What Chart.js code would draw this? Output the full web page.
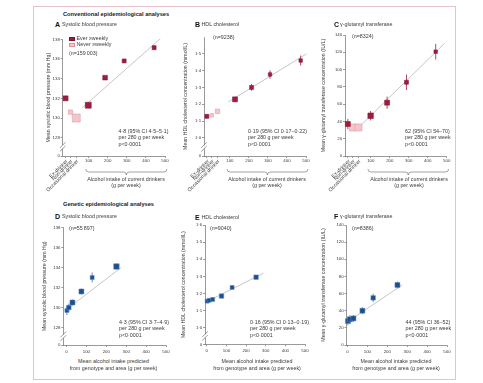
<!DOCTYPE html>
<html><head><meta charset="utf-8">
<script src="https://cdn.jsdelivr.net/npm/chart.js@4.4.1/dist/chart.umd.min.js"></script>
<style>
html,body{margin:0;padding:0;background:#fff;}
body{width:483px;height:383px;position:relative;overflow:hidden;font-family:"Liberation Sans Narrow","Liberation Sans",Arial,sans-serif;color:#333;}
#frame{position:absolute;left:33px;top:6px;width:423px;height:374px;border:1px solid #e6c2cc;box-sizing:border-box;}
.cv{position:absolute;}
.tx{position:absolute;white-space:nowrap;line-height:1;color:#3a3a3a;}
.sw{position:absolute;width:6px;height:4px;box-sizing:border-box;}
</style></head><body>
<div id="frame"></div>
<script>
// ================= DATA =================
const categoryLabels = ['Ex-drinker', 'Non-drinker', 'Occasional drinker'];
const categoryX = [-21, 5, 35];
const convXTicks = [100, 200, 300, 400, 500];
const genXTicks = [0, 100, 200, 300, 400, 500];
const braceRange = [85, 510];

// A  Systolic blood pressure (conventional)
const sbpYTicks = [128, 130, 132, 134, 136, 138];
const sbpEverX = [-21, 98, 186, 286, 443];
const sbpEverY = [132.0, 131.3, 134.1, 135.8, 137.15];
const sbpEverCI = [0.12, 0.12, 0.14, 0.18, 0.22];
const sbpNeverX = [5, 35];
const sbpNeverY = [130.6, 130.0];
const sbpNeverCI = [0.12, 0.1];
const sbpTrendX = [64, 475];
const sbpTrendY = [131.0, 138.05];

// B  HDL cholesterol (conventional)
const hdlYTicks = [1.0, 1.1, 1.2, 1.3, 1.4, 1.5];
const hdlEverX = [-21, 127, 214, 311, 472];
const hdlEverY = [1.128, 1.229, 1.30, 1.377, 1.46];
const hdlEverCI = [0.012, 0.015, 0.02, 0.025, 0.03];
const hdlNeverX = [5, 35];
const hdlNeverY = [1.134, 1.158];
const hdlNeverCI = [0.01, 0.012];
const hdlTrendX = [91, 503];
const hdlTrendY = [1.213, 1.50];

// C  gamma-glutamyl transferase (conventional)
const ggtYTicks = [0, 20, 40, 60, 80, 100, 120, 140];
const ggtEverX = [-21, 99, 186, 288, 442];
const ggtEverY = [37, 46.6, 61.7, 85.3, 120.7];
const ggtEverCI = [6, 5.5, 7, 9, 9];
const ggtNeverX = [5, 35];
const ggtNeverY = [33, 33];
const ggtNeverCI = [4, 4];
const ggtTrendX = [43, 489];
const ggtTrendY = [34.5, 130.4];

// D-F genetic analyses (mean alcohol intake predicted from genotype and area)
const genX = [2, 12, 30, 75, 129, 251];
const sbpGenY = [129.7, 130.0, 130.5, 131.6, 133.0, 134.1];
const sbpGenCI = [0.45, 0.4, 0.3, 0.3, 0.5, 0.3];
const sbpGenTrendX = [0, 275];
const sbpGenTrendY = [129.8, 134.0];

const hdlGenY = [1.155, 1.16, 1.165, 1.185, 1.235, 1.295];
const hdlGenCI = [0.012, 0.01, 0.01, 0.01, 0.01, 0.01];
const hdlGenTrendX = [0, 288];
const hdlGenTrendY = [1.152, 1.318];

const ggtGenY = [28, 30, 31, 40, 55, 70];
const ggtGenCI = [5, 5, 4, 4, 5, 4];
const ggtGenTrendX = [0, 275];
const ggtGenTrendY = [27, 70];

// ================= STYLE =================
const FONT = '"Liberation Sans Narrow","Liberation Sans",Arial,sans-serif';
const AXIS = '#555';
const TICKTXT = '#3a3a3a';
const EVER = {fill: '#9c1d40', stroke: '#7d1232', err: '#9c1d40'};
const NEVER = {fill: '#f3c6cb', stroke: '#d9939f', err: '#d9939f'};
const GEN = {fill: '#1f4e8d', stroke: '#5d8cc6', err: '#3d6eae'};
const TREND = '#b8b8b8';
const mkSbpEver = [5, 6, 4.7, 4, 4], mkSbpNever = [4.3, 8];
const mkHdlEver = [4, 5, 4, 3.5, 3.5], mkHdlNever = [3.5, 4.5];
const mkGgtEver = [5, 5.5, 5, 4, 3.5], mkGgtNever = [7, 7];
const mkSbpGen = [4, 4.5, 5, 5, 4, 5.5];
const mkHdlGen = [4, 4, 4, 4.5, 4, 4.5];
const mkGgtGen = [5, 5, 5, 5, 4.5, 5];

const sbpTitle = 'Mean systolic blood pressure (mm Hg)';
const hdlTitle = 'Mean HDL cholesterol concentration (mmol/L)';
const ggtTitle = 'Mean \u03b3-glutamyl transferase concentration (IU/L)';

// font sizes fitted (at their real size) to the widths of the reference texts
const mctx = document.createElement('canvas').getContext('2d');
function domWidth(text, size, bold) {
  const sp = document.createElement('span');
  sp.style.cssText = 'position:absolute;left:0;top:0;visibility:hidden;white-space:nowrap;line-height:1;font-size:' + size + 'px;font-family:' + FONT + ';' + (bold ? 'font-weight:bold;' : '');
  sp.textContent = text;
  document.body.appendChild(sp);
  const w = sp.getBoundingClientRect().width;
  sp.remove();
  return w;
}
function canvasWidth(text, size, bold) {
  mctx.font = (bold ? 'bold ' : '') + size + 'px ' + FONT;
  return mctx.measureText(text).width;
}
function fitSize(text, target, bold, canvas) {
  let lo = 3, hi = 12;
  for (let i = 0; i < 24; i++) {
    const mid = (lo + hi) / 2;
    const w = canvas ? canvasWidth(text, mid, bold) : domWidth(text, mid, bold);
    if (w < target) lo = mid; else hi = mid;
  }
  return (lo + hi) / 2;
}
const S_TICK = fitSize('100', 7.3, false, true);
const S_YT = fitSize(hdlTitle, 107, false, true);
const S_CAT = fitSize('Occasional drinker', 43, false, true);
const S_BODY = fitSize('Systolic blood pressure', 55, false, false);
const S_HDR = fitSize('Conventional epidemiological analyses', 106, true, false);

// ================= HELPERS =================
function pts(xs, ys) { return xs.map((x, i) => ({x, y: ys[i]})); }
function errData(xs, ys, ci) {
  const out = [];
  xs.forEach((x, i) => { out.push({x, y: ys[i] - ci[i]}, {x, y: ys[i] + ci[i]}, {x, y: null}); });
  return out;
}
function group(xs, ys, ci, sizes, col) {
  return [
    {data: pts(xs, ys), pointStyle: 'rect', pointRadius: sizes.map(s => s / 1.414),
     backgroundColor: col.fill, borderColor: col.stroke, pointBorderWidth: 0.5, clip: false, order: 0},
    {data: errData(xs, ys, ci), showLine: true, pointRadius: 0, borderColor: col.err,
     borderWidth: 0.8, spanGaps: false, clip: false, order: 1}
  ];
}
function trend(xs, ys) {
  return {data: pts(xs, ys), showLine: true, pointRadius: 0, borderColor: TREND, borderWidth: 0.8, clip: false, order: 2};
}
function fmt(v, dec) { return v.toFixed(dec).replace('.', '\u00b7'); }

const decor = {
  id: 'decor',
  afterDraw(chart, args, o) {
    const ctx = chart.ctx, xs = chart.scales.x, ys = chart.scales.y;
    const ax = chart.chartArea.left, ay = chart.chartArea.bottom;
    ctx.save();
    if (o.brk) {
      const y0 = ys.getPixelForValue(ys.min);
      const y1 = ys.getPixelForValue(o.firstTick);
      const m = (y0 + y1) / 2;
      ctx.fillStyle = '#fff';
      ctx.fillRect(ax - 1.5, m - 1.8, 3, 3.6);
      ctx.strokeStyle = AXIS; ctx.lineWidth = 0.6;
      [-1.8, 1.8].forEach(k => {
        ctx.beginPath(); ctx.moveTo(ax - 2.8, m + k + 2.8); ctx.lineTo(ax + 2.8, m + k - 2.8); ctx.stroke();
      });
    }
    if (o.cats) {
      ctx.fillStyle = TICKTXT; ctx.font = S_CAT + 'px ' + FONT; ctx.textAlign = 'right'; ctx.textBaseline = 'middle';
      categoryX.forEach((v, i) => {
        const px = xs.getPixelForValue(v);
        ctx.save(); ctx.translate(px + 1.5, ay + 4.5); ctx.rotate(-Math.PI / 4);
        ctx.fillText(categoryLabels[i], 0, 0); ctx.restore();
      });
    }
    if (o.brace) {
      const x1 = xs.getPixelForValue(braceRange[0]), x2 = xs.getPixelForValue(braceRange[1]);
      const xm = (x1 + x2) / 2, t = ay + 13, d = 6, h = d / 2, r = 3;
      ctx.strokeStyle = '#666'; ctx.lineWidth = 0.6; ctx.beginPath();
      ctx.moveTo(x1, t);
      ctx.quadraticCurveTo(x1, t + h, x1 + r, t + h);
      ctx.lineTo(xm - r, t + h);
      ctx.quadraticCurveTo(xm, t + h, xm, t + d);
      ctx.quadraticCurveTo(xm, t + h, xm + r, t + h);
      ctx.lineTo(x2 - r, t + h);
      ctx.quadraticCurveTo(x2, t + h, x2, t);
      ctx.stroke();
    }
    ctx.restore();
  }
};

function makePanel(p) {
  const wyT = p.axisX - p.titleX + S_YT * 0.6;
  const left = Math.round(p.axisX - wyT);
  const wy = p.axisX - left;
  const top = Math.round(p.plotTop - 8);
  const pt = p.plotTop - top;
  const W = Math.ceil(wy + p.plotW + 8);
  const pr = W - wy - p.plotW;
  const H = Math.ceil(pt + p.plotH + p.hx);
  const hx = H - pt - p.plotH;
  const wrap = document.createElement('div');
  wrap.className = 'cv'; wrap.style.left = left + 'px'; wrap.style.top = top + 'px';
  const c = document.createElement('canvas');
  c.width = W; c.height = H; c.style.width = W + 'px'; c.style.height = H + 'px';
  wrap.appendChild(c); document.body.appendChild(wrap);
  const tickFont = {size: S_TICK, family: FONT};
  const yTickVals = p.brk ? [p.ymin].concat(p.yTicks) : p.yTicks;
  new Chart(c, {
    type: 'scatter',
    data: {datasets: p.datasets},
    plugins: [decor],
    options: {
      responsive: false, animation: false, devicePixelRatio: 1, events: [],
      layout: {autoPadding: false, padding: {top: pt, right: pr, left: 0, bottom: 0}},
      plugins: {legend: {display: false}, tooltip: {enabled: false},
        decor: {brk: p.brk, firstTick: p.yTicks[0], cats: p.conv, brace: p.conv}},
      scales: {
        x: {type: 'linear', min: p.xmin, max: 500,
          afterBuildTicks: s => { s.ticks = p.xTicks.map(v => ({value: v})); },
          afterFit: s => { s.height = hx; },
          ticks: {font: tickFont, color: TICKTXT, padding: p.conv ? 0.3 : 2.3, maxRotation: 0, autoSkip: false,
            callback: v => (p.xLabels.includes(v) ? String(v) : '')},
          grid: {drawOnChartArea: false, drawTicks: true, tickLength: 2, color: AXIS, lineWidth: 0.6},
          border: {color: AXIS, width: 0.6}},
        y: {type: 'linear', min: p.ymin, max: p.ymax,
          afterBuildTicks: s => { s.ticks = yTickVals.map(v => ({value: v})); },
          afterFit: s => { s.width = wy; },
          ticks: {font: tickFont, color: TICKTXT, padding: 0.8, autoSkip: false,
            callback: v => (p.brk && Math.abs(v - p.ymin) < 1e-9 ? '0' : fmt(v, p.dec))},
          grid: {drawOnChartArea: false, drawTicks: true, tickLength: 2, color: AXIS, lineWidth: 0.6},
          border: {color: AXIS, width: 0.6},
          title: {display: true, text: p.yTitle, color: TICKTXT, font: {size: S_YT, family: FONT}, padding: {top: 0, bottom: 0}}}
      }
    }
  });
}

const convX = categoryX.concat(convXTicks);

// A
makePanel({axisX: 62.7, titleX: 48, plotTop: 39.3, plotW: 102.3, plotH: 116.7, hx: 38,
  xmin: -36, xTicks: convX, xLabels: convXTicks, conv: true,
  ymin: 126.14, ymax: 138, yTicks: sbpYTicks, dec: 0, brk: true, yTitle: sbpTitle,
  datasets: [...group(sbpEverX, sbpEverY, sbpEverCI, mkSbpEver, EVER),
             ...group(sbpNeverX, sbpNeverY, sbpNeverCI, mkSbpNever, NEVER),
             trend(sbpTrendX, sbpTrendY)]});
// B
makePanel({axisX: 204, titleX: 185, plotTop: 37, plotW: 102, plotH: 119, hx: 38,
  xmin: -36, xTicks: convX, xLabels: convXTicks, conv: true,
  ymin: 0.892, ymax: 1.6, yTicks: hdlYTicks, dec: 1, brk: true, yTitle: hdlTitle,
  datasets: [...group(hdlEverX, hdlEverY, hdlEverCI, mkHdlEver, EVER),
             ...group(hdlNeverX, hdlNeverY, hdlNeverCI, mkHdlNever, NEVER),
             trend(hdlTrendX, hdlTrendY)]});
// C
makePanel({axisX: 345, titleX: 323, plotTop: 35, plotW: 101.7, plotH: 121, hx: 38,
  xmin: -36, xTicks: convX, xLabels: convXTicks, conv: true,
  ymin: 0, ymax: 140, yTicks: ggtYTicks, dec: 0, brk: false, yTitle: ggtTitle,
  datasets: [...group(ggtEverX, ggtEverY, ggtEverCI, mkGgtEver, EVER),
             ...group(ggtNeverX, ggtNeverY, ggtNeverCI, mkGgtNever, NEVER),
             trend(ggtTrendX, ggtTrendY)]});
// D
makePanel({axisX: 63.3, titleX: 44, plotTop: 227.5, plotW: 102.7, plotH: 117.5, hx: 12,
  xmin: -16, xTicks: genXTicks, xLabels: genXTicks, conv: false,
  ymin: 126.25, ymax: 138, yTicks: sbpYTicks, dec: 0, brk: true, yTitle: sbpTitle,
  datasets: [...group(genX, sbpGenY, sbpGenCI, mkSbpGen, GEN), trend(sbpGenTrendX, sbpGenTrendY)]});
// E
makePanel({axisX: 205, titleX: 183.3, plotTop: 225, plotW: 100, plotH: 119.3, hx: 12,
  xmin: -9, xTicks: genXTicks, xLabels: genXTicks, conv: false,
  ymin: 0.903, ymax: 1.6, yTicks: hdlYTicks.concat([1.6]), dec: 1, brk: true, yTitle: hdlTitle,
  datasets: [...group(genX, hdlGenY, hdlGenCI, mkHdlGen, GEN), trend(hdlGenTrendX, hdlGenTrendY)]});
// F
makePanel({axisX: 346.5, titleX: 323.3, plotTop: 225, plotW: 100.5, plotH: 120, hx: 12,
  xmin: -5, xTicks: genXTicks, xLabels: genXTicks, conv: false,
  ymin: 0, ymax: 140, yTicks: ggtYTicks, dec: 0, brk: false, yTitle: ggtTitle,
  datasets: [...group(genX, ggtGenY, ggtGenCI, mkGgtGen, GEN), trend(ggtGenTrendX, ggtGenTrendY)]});

// ================= TEXT =================
function txt(html, x, y, opt) {
  opt = opt || {};
  const d = document.createElement('div');
  d.className = 'tx';
  d.innerHTML = html;
  const fs = opt.size || S_BODY;
  d.style.fontSize = fs + 'px';
  if (opt.bold) d.style.fontWeight = 'bold';
  if (opt.color) d.style.color = opt.color;
  document.body.appendChild(d);
  const w = d.getBoundingClientRect().width;
  d.style.left = (opt.center ? x - w / 2 : x) + 'px';
  d.style.top = (y - fs * 0.55) + 'px';
  return d;
}
txt('Conventional epidemiological analyses', 63, 15, {bold: true, size: S_HDR, color: '#222'});
txt('Genetic epidemiological analyses', 63, 205, {bold: true, size: S_HDR, color: '#222'});
[['A', 55, 25], ['B', 195, 25], ['C', 334, 25], ['D', 55, 217], ['E', 195, 218], ['F', 334, 217]]
  .forEach(([l, x, y]) => txt(l, x, y, {bold: true, size: 7, color: '#111'}));
txt('Systolic blood pressure', 62, 25);
txt('HDL cholesterol', 201.5, 25);
txt('\u03b3-glutamyl transferase', 340, 25);
txt('Systolic blood pressure', 62, 217);
txt('HDL cholesterol', 201.5, 218);
txt('\u03b3-glutamyl transferase', 340, 217);
txt('Ever \u2265weekly', 76.5, 38.5);
txt('Never \u2265weekly', 76.5, 44.5);
txt('(n=159\u2009003)', 69, 53.5);
txt('(n=9238)', 213, 38);
txt('(n=8324)', 352, 37);
txt('(n=55\u2009897)', 69, 228.5);
txt('(n=9040)', 210, 229);
txt('(n=8386)', 352, 228.5);
[[EVER, 36.5], [NEVER, 42.5]].forEach(([c, y]) => {
  const s = document.createElement('div'); s.className = 'sw';
  s.style.left = '69px'; s.style.top = y + 'px'; s.style.background = c.fill; s.style.border = '0.5px solid ' + c.stroke;
  document.body.appendChild(s);
});
const estA = ['4\u00b78 (95% CI 4\u00b75\u20135\u00b71)', 'per 280 g per week', 'p&lt;0\u00b70001'];
const estB = ['0\u00b719 (95% CI 0\u00b717\u20130\u00b722)', 'per 280 g per week', 'p&lt;0\u00b70001'];
const estC = ['62 (95% CI 54\u201370)', 'per 280 g per week', 'p&lt;0\u00b70001'];
const estD = ['4\u00b73 (95% CI 3\u00b77\u20134\u00b79)', 'per 280 g per week', 'p&lt;0\u00b70001'];
const estE = ['0\u00b716 (95% CI 0\u00b713\u20130\u00b719)', 'per 280 g per week', 'p&lt;0\u00b70001'];
const estF = ['44 (95% CI 36\u201352)', 'per 280 g per week', 'p&lt;0\u00b70001'];
[[estA, 118.5, 131.7], [estB, 248, 131.7], [estC, 405, 131.7], [estD, 119, 322.5], [estE, 250, 322.5], [estF, 405.5, 322.5]]
  .forEach(([e, x, y]) => { e.forEach((line, i) => txt(line, x, y + i * 6.6)); });
[126, 267, 409].forEach(cx => {
  txt('Alcohol intake of current drinkers', cx, 179.5, {center: true});
  txt('(g per week)', cx, 186, {center: true});
});
[113.5, 257, 396].forEach(cx => {
  txt('Mean alcohol intake predicted', cx, 362, {center: true});
  txt('from genotype and area (g per week)', cx, 369, {center: true});
});
</script>
</body></html>
